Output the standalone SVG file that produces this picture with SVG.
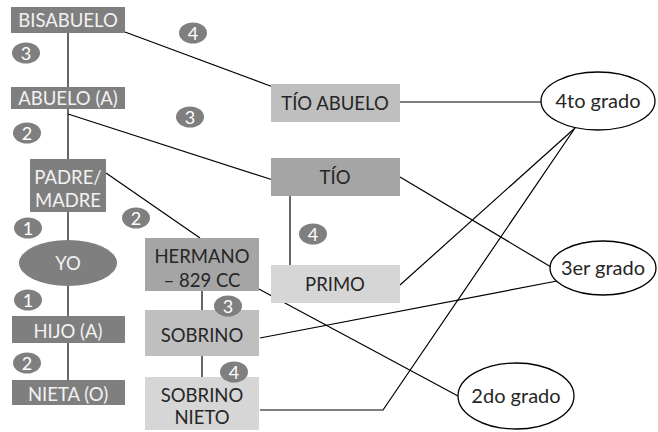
<svg xmlns="http://www.w3.org/2000/svg" width="658" height="432" viewBox="0 0 658 432">
  <style>
    text { font-family: Lato, "Open Sans", "Liberation Sans", sans-serif; font-size: 18.5px; text-anchor: middle; }
    .dk { fill: #7f7f7f; }
    .md { fill: #a5a5a5; }
    .lt { fill: #bfbfbf; }
    .xl { fill: #d6d6d7; }
    .tw { fill: #f2f2f2; }
    .tb { fill: #262626; }
    .grado { fill: #ffffff; stroke: #000000; stroke-width: 1.3; }
    .gt { fill: #262626; font-size: 20px; }
    .badge ellipse { fill: #7f7f7f; }
    .badge text { fill: #ffffff; font-size: 18px; }
    .tree { stroke: #404040; stroke-width: 1.6; fill: none; }
    .link { stroke: #000000; stroke-width: 1.2; fill: none; }
  </style>
  <rect width="658" height="432" fill="#ffffff"/>

  <!-- connectors -->
  <g id="connectors">
    <line class="tree" x1="68" y1="33" x2="68" y2="87"/>
    <line class="tree" x1="68" y1="109" x2="68" y2="159"/>
    <line class="tree" x1="68" y1="212" x2="68" y2="240"/>
    <line class="tree" x1="68" y1="286" x2="68" y2="316"/>
    <line class="tree" x1="68" y1="343" x2="68" y2="380"/>
    <line class="tree" x1="202" y1="291" x2="202" y2="310"/>
    <line class="tree" x1="202" y1="356" x2="202" y2="377"/>
    <line class="link" x1="290" y1="196" x2="290" y2="265"/>
    <line class="link" x1="125" y1="32" x2="273" y2="87"/>
    <line class="link" x1="68" y1="114" x2="273" y2="180"/>
    <line class="link" x1="106" y1="173" x2="200" y2="238"/>
    <line class="link" x1="400" y1="102" x2="541" y2="102"/>
    <line class="link" x1="400" y1="177" x2="551" y2="267"/>
    <line class="link" x1="400" y1="285" x2="575" y2="128"/>
    <polyline class="link" points="260,410 383,410 575,128"/>
    <line class="link" x1="260" y1="338" x2="557" y2="281"/>
    <line class="link" x1="257" y1="288" x2="458" y2="396"/>
  </g>

  <!-- direct line -->
  <g id="bisabuelo">
    <rect class="dk" x="11" y="7" width="114" height="26"/>
    <text class="tw" x="68" y="27">BISABUELO</text>
  </g>
  <g id="abuelo">
    <rect class="dk" x="11" y="87" width="114" height="22"/>
    <text class="tw" x="68" y="105">ABUELO (A)</text>
  </g>
  <g id="padre">
    <rect class="dk" x="30" y="159" width="76" height="53"/>
    <text class="tw" x="68" y="184">PADRE/</text>
    <text class="tw" x="68" y="207">MADRE</text>
  </g>
  <g id="yo">
    <ellipse class="dk" cx="68" cy="263" rx="49" ry="23"/>
    <text class="tw" x="68" y="270">YO</text>
  </g>
  <g id="hijo">
    <rect class="dk" x="12" y="316" width="113" height="27"/>
    <text class="tw" x="68" y="338">HIJO (A)</text>
  </g>
  <g id="nieta">
    <rect class="dk" x="12" y="380" width="113" height="25"/>
    <text class="tw" x="68" y="401">NIETA (O)</text>
  </g>

  <!-- collateral line -->
  <g id="hermano">
    <rect class="md" x="145" y="238" width="114" height="53"/>
    <text class="tb" x="202" y="263">HERMANO</text>
    <text class="tb" x="202" y="287">– 829 CC</text>
  </g>
  <g id="sobrino">
    <rect class="lt" x="145" y="310" width="114" height="46"/>
    <text class="tb" x="202" y="342">SOBRINO</text>
  </g>
  <g id="sobrino-nieto">
    <rect class="xl" x="145" y="377" width="114" height="53"/>
    <text class="tb" x="202" y="402">SOBRINO</text>
    <text class="tb" x="202" y="424">NIETO</text>
  </g>
  <g id="tio-abuelo">
    <rect class="lt" x="271" y="84" width="129" height="38"/>
    <text class="tb" x="335" y="110">TÍO ABUELO</text>
  </g>
  <g id="tio">
    <rect class="md" x="271" y="158" width="129" height="38"/>
    <text class="tb" x="335" y="184">TÍO</text>
  </g>
  <g id="primo">
    <rect class="xl" x="271" y="265" width="129" height="38"/>
    <text class="tb" x="335" y="291">PRIMO</text>
  </g>

  <!-- degrees -->
  <g id="cuarto-grado">
    <ellipse class="grado" cx="598" cy="101" rx="57" ry="29"/>
    <text class="gt" x="598" y="108">4to grado</text>
  </g>
  <g id="tercer-grado">
    <ellipse class="grado" cx="603" cy="268" rx="53" ry="27"/>
    <text class="gt" x="603" y="275">3er grado</text>
  </g>
  <g id="segundo-grado">
    <ellipse class="grado" cx="516" cy="396" rx="58" ry="33"/>
    <text class="gt" x="516" y="403">2do grado</text>
  </g>

  <!-- step counters -->
  <g id="badges" class="badge">
    <g><ellipse cx="26" cy="53" rx="14" ry="10.5"/><text x="26" y="60">3</text></g>
    <g><ellipse cx="193" cy="33" rx="14" ry="10.5"/><text x="193" y="40">4</text></g>
    <g><ellipse cx="190" cy="117" rx="14" ry="10.5"/><text x="190" y="124">3</text></g>
    <g><ellipse cx="27" cy="133" rx="14" ry="10.5"/><text x="27" y="140">2</text></g>
    <g><ellipse cx="28" cy="228" rx="14" ry="10.5"/><text x="28" y="235">1</text></g>
    <g><ellipse cx="136" cy="218" rx="14" ry="10.5"/><text x="136" y="225">2</text></g>
    <g><ellipse cx="313" cy="234" rx="14" ry="10.5"/><text x="313" y="241">4</text></g>
    <g><ellipse cx="28" cy="300" rx="14" ry="10.5"/><text x="28" y="307">1</text></g>
    <g><ellipse cx="228" cy="306" rx="14" ry="10.5"/><text x="228" y="313">3</text></g>
    <g><ellipse cx="27" cy="363" rx="14" ry="10.5"/><text x="27" y="370">2</text></g>
    <g><ellipse cx="234" cy="372" rx="14" ry="10.5"/><text x="234" y="379">4</text></g>
  </g>
</svg>
